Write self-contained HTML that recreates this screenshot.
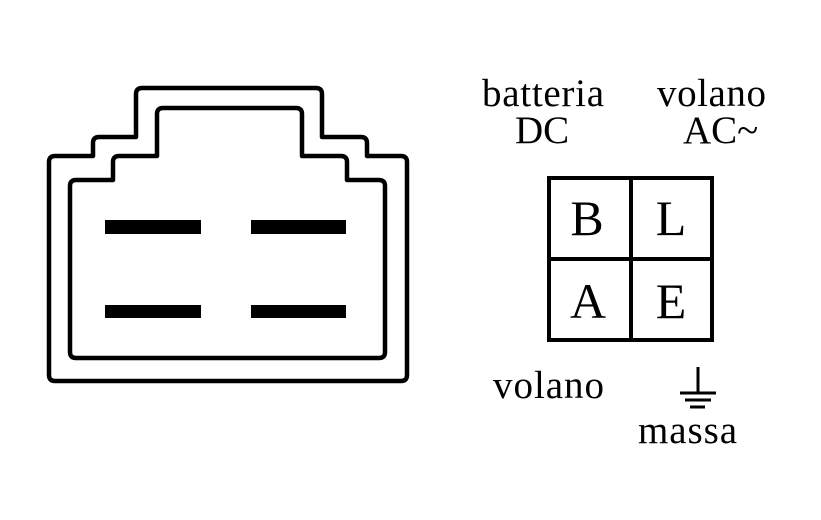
<!DOCTYPE html>
<html><head><meta charset="utf-8"><style>
html,body{margin:0;padding:0;background:#fff;}
svg{display:block;}
text{font-family:"Liberation Serif",serif;fill:#000;}
</style></head><body>
<svg width="821" height="520" viewBox="0 0 821 520" xmlns="http://www.w3.org/2000/svg">
<g fill="none" stroke="#000" stroke-width="4.5" stroke-linejoin="round">
<path d="M49 162 Q49 156 55 156 L93 156 L93 143 Q93 137 99 137 L136 137 L136 94 Q136 88 142 88 L316 88 Q322 88 322 94 L322 137 L361 137 Q367 137 367 143 L367 156 L401 156 Q407 156 407 162 L407 375 Q407 381 401 381 L55 381 Q49 381 49 375 Z"/>
<path d="M70 186 Q70 180 76 180 L113 180 L113 162 Q113 156 119 156 L157 156 L157 114 Q157 108 163 108 L296 108 Q302 108 302 114 L302 156 L341 156 Q347 156 347 162 L347 180 L379 180 Q385 180 385 186 L385 352 Q385 358 379 358 L76 358 Q70 358 70 352 Z"/>
</g>
<rect x="105" y="220" width="96" height="14"/>
<rect x="251" y="220" width="95" height="14"/>
<rect x="105" y="305" width="96" height="13"/>
<rect x="251" y="305" width="95" height="13"/>
<g fill="none" stroke="#000" stroke-width="4">
<rect x="549" y="178" width="163" height="162"/>
<line x1="631" y1="178" x2="631" y2="340"/>
<line x1="549" y1="259" x2="712" y2="259"/>
</g>
<g font-size="50" text-anchor="middle">
<text x="587" y="235">B</text>
<text x="671" y="235">L</text>
<text x="588" y="318">A</text>
<text x="671" y="318">E</text>
</g>
<g font-size="39">
<text x="482" y="106" textLength="122">batteria</text>
<text x="515" y="143">DC</text>
<text x="657" y="106" textLength="109">volano</text>
<text x="683" y="143">AC~</text>
<text x="493" y="398" textLength="111">volano</text>
<text x="638" y="443" textLength="99">massa</text>
</g>
<g stroke="#000" stroke-width="3">
<line x1="698" y1="367" x2="698" y2="393"/>
<line x1="680" y1="393" x2="716" y2="393"/>
<line x1="685" y1="400" x2="711" y2="400"/>
<line x1="690" y1="407" x2="705" y2="407"/>
</g>
</svg>
</body></html>
